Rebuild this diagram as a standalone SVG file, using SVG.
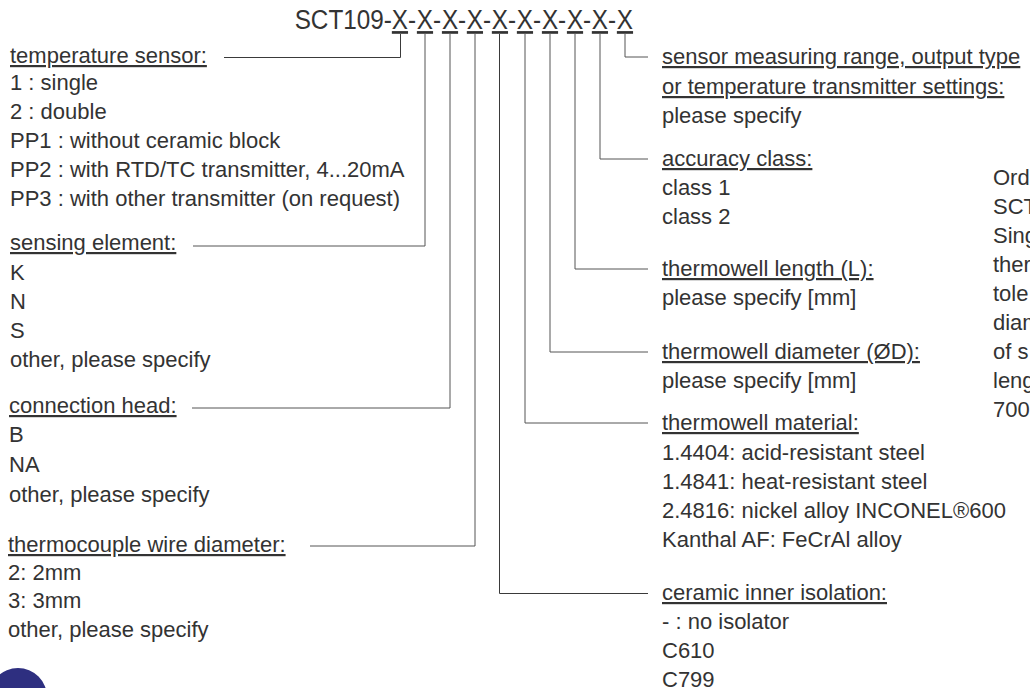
<svg xmlns="http://www.w3.org/2000/svg" width="1030" height="688" viewBox="0 0 1030 688">
<style>
text{font-family:"Liberation Sans",Arial,sans-serif;font-size:22px;fill:#333}
.h{text-decoration:underline}
.t{font-size:27px}
.u{text-decoration:underline}
.c{fill:none;stroke:#3a3a3a;stroke-width:1}
.g{fill:none;stroke:#555;stroke-width:1}
</style>
<rect width="1030" height="688" fill="#fff"/>
<g id="title">
<text class="t" y="29" transform="scale(0.9,1)"><tspan x="327.4">SCT109-</tspan><tspan x="435.4" class="u">X</tspan><tspan x="453.4">-</tspan><tspan x="463.2" class="u">X</tspan><tspan x="481.2">-</tspan><tspan x="491" class="u">X</tspan><tspan x="509">-</tspan><tspan x="518.7" class="u">X</tspan><tspan x="536.7">-</tspan><tspan x="546.5" class="u">X</tspan><tspan x="564.5">-</tspan><tspan x="574.3" class="u">X</tspan><tspan x="592.3">-</tspan><tspan x="602.1" class="u">X</tspan><tspan x="620.1">-</tspan><tspan x="629.9" class="u">X</tspan><tspan x="647.9">-</tspan><tspan x="657.6" class="u">X</tspan><tspan x="675.6">-</tspan><tspan x="685.4" class="u">X</tspan></text>
</g>
<g id="connectors">
<path class="c" d="M400.5,34 V57.5 H224"/>
<path class="g" d="M425,34 V246 H193"/>
<path class="g" d="M450,34 V408 H192"/>
<path class="g" d="M475,34 V546 H310"/>
<path class="c" d="M499.5,34 V593.5 H648"/>
<path class="g" d="M525,34 V423 H648"/>
<path class="g" d="M550,34 V352 H648"/>
<path class="g" d="M575,34 V269 H648"/>
<path class="g" d="M600,34 V159 H648"/>
<path class="g" d="M625,34 V57 H648"/>
</g>
<g id="temperature-sensor">
<text class="h" x="10" y="63">temperature sensor:</text>
<text x="10" y="90">1 : single</text>
<text x="10" y="119">2 : double</text>
<text x="10" y="148">PP1 : without ceramic block</text>
<text x="10" y="177">PP2 : with RTD/TC transmitter, 4...20mA</text>
<text x="10" y="206">PP3 : with other transmitter (on request)</text>
</g>
<g id="sensing-element">
<text class="h" x="10" y="250">sensing element:</text>
<text x="10" y="280">K</text>
<text x="10" y="309">N</text>
<text x="10" y="338">S</text>
<text x="10" y="367">other, please specify</text>
</g>
<g id="connection-head">
<text class="h" x="9" y="413">connection head:</text>
<text x="9" y="442">B</text>
<text x="9" y="472">NA</text>
<text x="9" y="502">other, please specify</text>
</g>
<g id="wire-diameter">
<text class="h" x="8" y="552">thermocouple wire diameter:</text>
<text x="8" y="580">2: 2mm</text>
<text x="8" y="608">3: 3mm</text>
<text x="8" y="637">other, please specify</text>
</g>
<g id="measuring-range">
<text class="h" x="662" y="64">sensor measuring range, output type</text>
<text class="h" x="662" y="94">or temperature transmitter settings:</text>
<text x="662" y="123">please specify</text>
</g>
<g id="accuracy-class">
<text class="h" x="662" y="166">accuracy class:</text>
<text x="662" y="195">class 1</text>
<text x="662" y="224">class 2</text>
</g>
<g id="thermowell-length">
<text class="h" x="662" y="276">thermowell length (L):</text>
<text x="662" y="305">please specify [mm]</text>
</g>
<g id="thermowell-diameter">
<text class="h" x="662" y="359">thermowell diameter (ØD):</text>
<text x="662" y="388">please specify [mm]</text>
</g>
<g id="thermowell-material">
<text class="h" x="662" y="430">thermowell material:</text>
<text x="662" y="460">1.4404: acid-resistant steel</text>
<text x="662" y="489">1.4841: heat-resistant steel</text>
<text x="662" y="518">2.4816: nickel alloy INCONEL®600</text>
<text x="662" y="547">Kanthal AF: FeCrAl alloy</text>
</g>
<g id="ceramic-isolation">
<text class="h" x="662" y="600">ceramic inner isolation:</text>
<text x="662" y="629">- : no isolator</text>
<text x="662" y="658">C610</text>
<text x="662" y="687">C799</text>
</g>
<g id="order-example">
<text x="993" y="185">Ord</text>
<text x="993" y="214">SCT</text>
<text x="993" y="243">Sing</text>
<text x="993" y="272">ther</text>
<text x="993" y="301">tole</text>
<text x="993" y="330">diam</text>
<text x="993" y="359">of s</text>
<text x="993" y="388">leng</text>
<text x="993" y="417">700</text>
</g>
<circle id="badge" cx="18" cy="697" r="29" fill="#2e2f80"/>
</svg>
